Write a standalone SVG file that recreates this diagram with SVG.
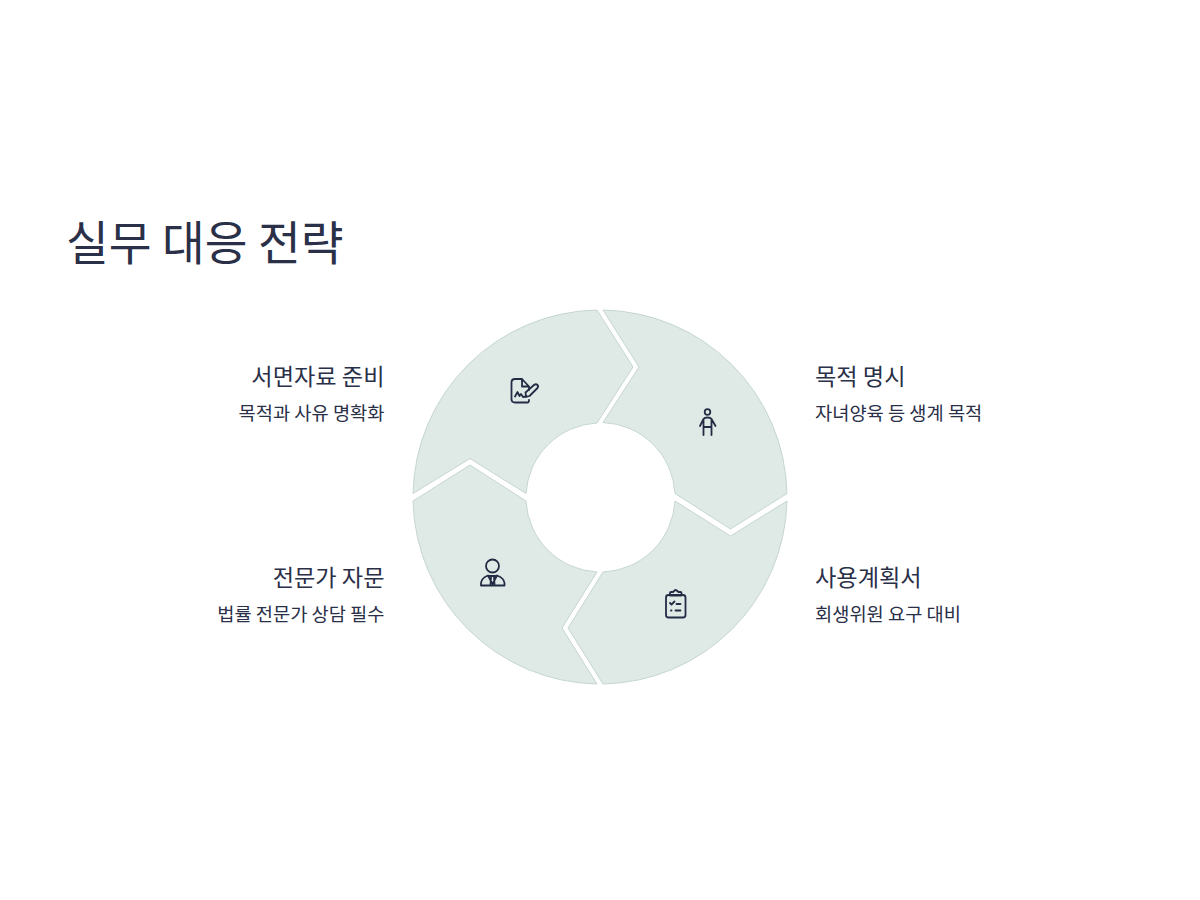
<svg xmlns="http://www.w3.org/2000/svg" width="1200" height="900" viewBox="0 0 1200 900">
<style>
text{font-family:"Noto Sans CJK KR","Noto Sans",sans-serif;fill:#2a3048}
.t{font-size:23.200px}
.d{font-size:18.700px}
.e{text-anchor:end}
.seg{fill:#dfe9e6;stroke:#c6d6d0;stroke-width:1}
.ic{fill:none;stroke:#232c45;stroke-width:1.800;stroke-linecap:round;stroke-linejoin:round}
</style>
<rect width="1200" height="900" fill="#ffffff"/>
<text x="66" y="260" font-size="46.500">실무 대응 전략</text>
<g id="connectors"/>
<g id="seg-tl">
<path class="seg" d="M597 310L633 367L597 423A75 75 0 0 0 526 493.500L470 458.500L413 493.500A187.500 187.500 0 0 1 597 310Z"/>
<path class="ic" d="M522 379H515Q511.500 379 511.500 382.500V399Q511.500 402.500 515 402.500H527.500Q529 402.500 529 400M522 379L529 386.500V390M522 379V386.500H529M515 396.500L517.500 392L519.500 396L521 394L523 397L527 396.500M526 397L525.500 392.500L534 385Q536 383.500 537.500 385Q539 386.500 537 388.500L529.500 396Z"/>
<text class="t e" x="384.500" y="385">서면자료 준비</text>
<text class="d e" x="384.500" y="420">목적과 사유 명확화</text>
</g>
<g id="seg-tr">
<path class="seg" d="M603 310L639 367L603 422.500A75 75 0 0 1 675 493.500L730.500 529L787 493.500A187.500 187.500 0 0 0 603 310Z"/>
<g class="ic"><circle cx="707.500" cy="412" r="2.800"/><path d="M700 426L703.500 419Q704.500 417.500 707.500 417.500Q710.500 417.500 711.500 419L715.500 426M703.500 419V435M711.500 419V435M703.500 427H711.500"/></g>
<text class="t" x="815" y="385">목적 명시</text>
<text class="d" x="815" y="420">자녀양육 등 생계 목적</text>
</g>
<g id="seg-br">
<path class="seg" d="M787 501L730.500 536L675 501A75 75 0 0 1 603 572L568 628L603 684A187.500 187.500 0 0 0 787 501Z"/>
<g class="ic"><rect x="666" y="595" width="19.500" height="22.500" rx="2.500"/><path d="M670 595V593Q670 592 671 592H673Q675 590 675.500 590Q676.500 590 678.500 592H680.500Q681.500 592 681.500 593V595.500H670M670 603L671.500 604.500L674.500 601.500M676.500 604H680.500M671 610.500H671.500M675.500 610.500H680.500"/></g>
<text class="t" x="815" y="586">사용계획서</text>
<text class="d" x="815" y="621">회생위원 요구 대비</text>
</g>
<g id="seg-bl">
<path class="seg" d="M597 684L562 628L597 572A75 75 0 0 1 526 501L470 465L413 501A187.500 187.500 0 0 0 597 684Z"/>
<g class="ic"><circle cx="492.500" cy="566" r="6.500"/><path d="M481 585.500V583Q481.500 578 488 575.500L492.500 584L497 575.500Q504 578 504.500 583V585.500ZM489 576H496M491 577.500L490.500 584M494 577.500L494.500 584"/></g>
<text class="t e" x="384.500" y="586">전문가 자문</text>
<text class="d e" x="384.500" y="621">법률 전문가 상담 필수</text>
</g>
</svg>
